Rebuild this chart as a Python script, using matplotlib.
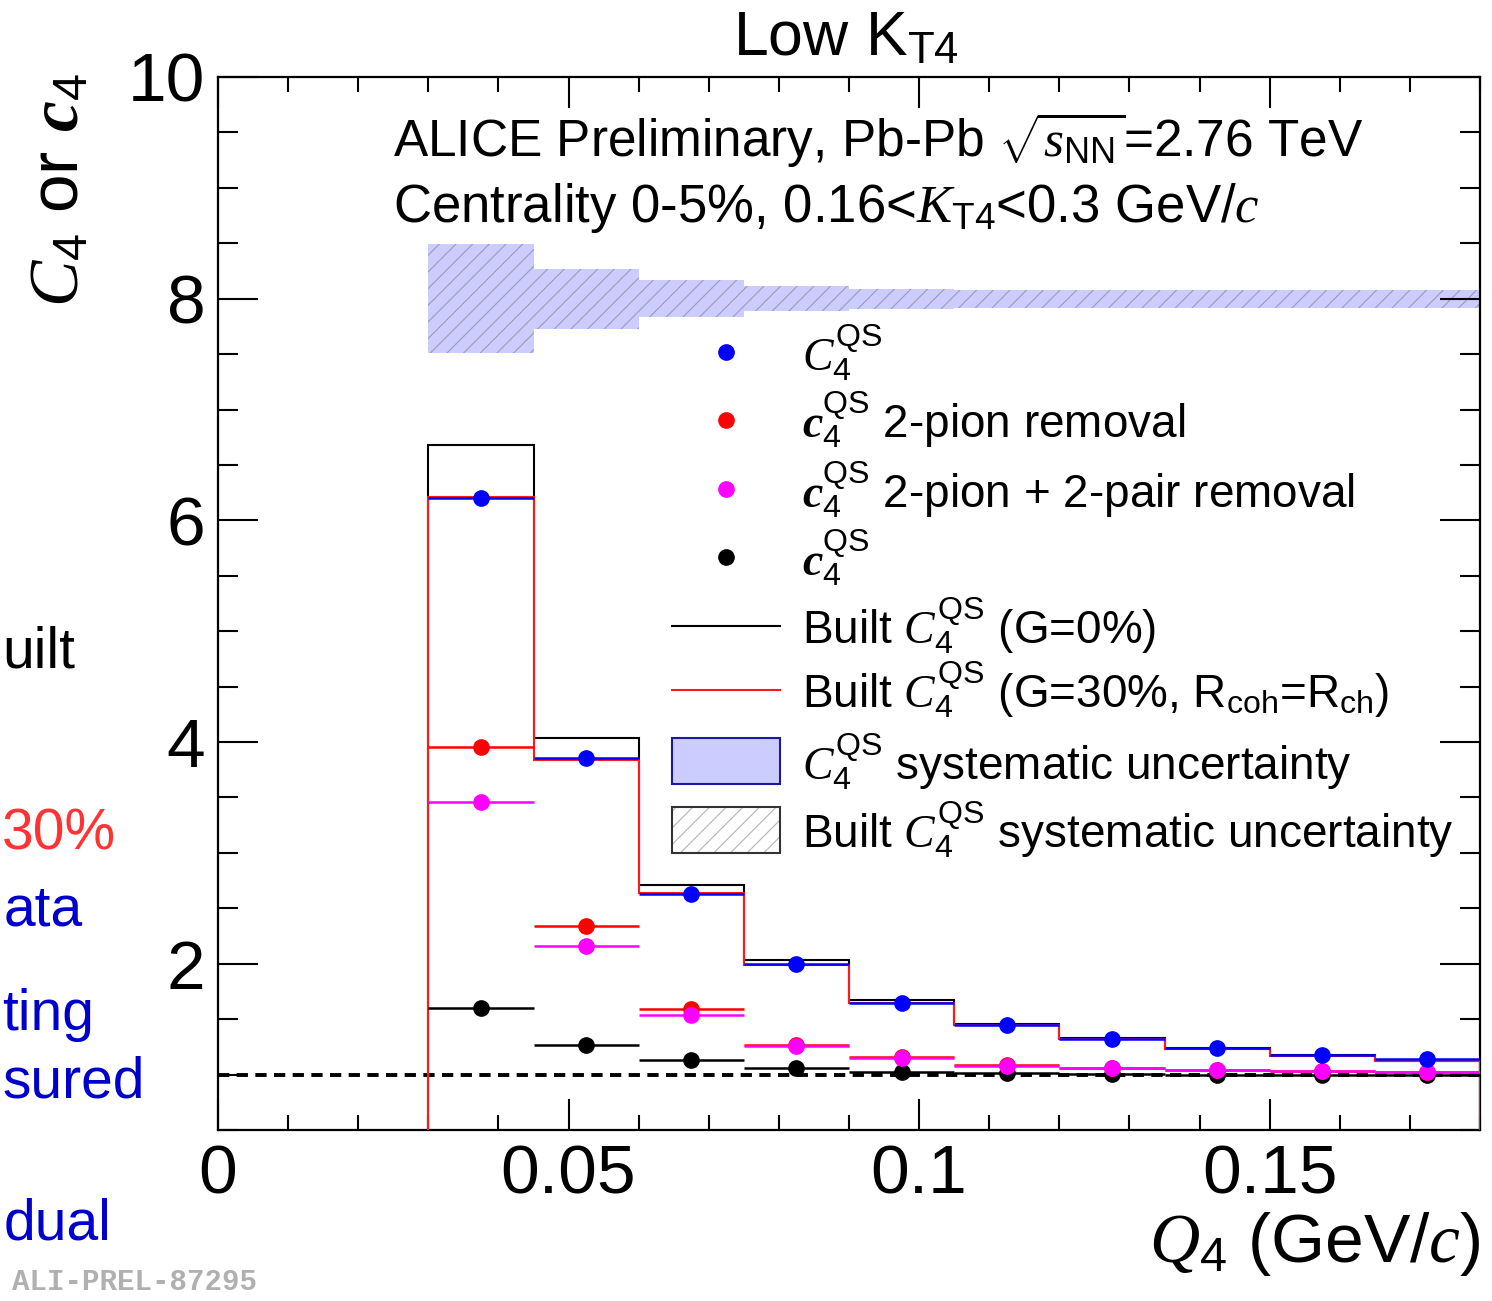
import numpy as np
import matplotlib
matplotlib.use("Agg")
import matplotlib.pyplot as plt
from matplotlib.lines import Line2D
from matplotlib.patches import Rectangle
from matplotlib.ticker import MultipleLocator, FixedLocator, FixedFormatter

plt.rcParams["font.family"] = ["Liberation Sans", "DejaVu Sans"]
plt.rcParams["mathtext.fontset"] = "custom"
plt.rcParams["mathtext.rm"] = "Liberation Sans"
plt.rcParams["mathtext.it"] = "Liberation Serif:italic"
plt.rcParams["mathtext.bf"] = "Liberation Serif:italic:bold"
plt.rcParams["hatch.linewidth"] = 0.8

# ---------------- data ----------------
q4_edges = [0.030, 0.045, 0.060, 0.075, 0.090, 0.105, 0.120, 0.135, 0.150, 0.165, 0.180]

C4_qs = [6.20, 3.86, 2.63, 2.00, 1.65, 1.445, 1.32, 1.24, 1.18, 1.14]
C4_qs_err = [0.02, 0.01, 0.01, 0.01, 0.01, 0.01, 0.01, 0.01, 0.01, 0.01]

c4_2pion = [3.955, 2.34, 1.59, 1.27, 1.16, 1.09, 1.06, 1.04, 1.03, 1.02]
c4_2pion_err = [0.03, 0.02, 0.02, 0.01, 0.01, 0.01, 0.01, 0.01, 0.01, 0.01]

c4_2pion_2pair = [3.46, 2.16, 1.54, 1.26, 1.15, 1.08, 1.06, 1.04, 1.03, 1.02]
c4_2pion_2pair_err = [0.06, 0.02, 0.02, 0.01, 0.01, 0.01, 0.01, 0.01, 0.01, 0.01]

c4_qs = [1.60, 1.265, 1.135, 1.06, 1.02, 1.01, 1.005, 1.0, 1.0, 1.0]
c4_qs_err = [0.06, 0.02, 0.02, 0.01, 0.01, 0.01, 0.01, 0.01, 0.01, 0.01]

built_G0 = [6.68, 4.04, 2.71, 2.03, 1.67, 1.455, 1.33, 1.24, 1.175, 1.125]
built_G30 = [6.21, 3.84, 2.64, 1.99, 1.65, 1.445, 1.32, 1.23, 1.17, 1.12]

syst_center = 8.0
syst_halfwidth = [0.49, 0.27, 0.165, 0.115, 0.09, 0.08, 0.08, 0.08, 0.08, 0.08]

x_ticks = [0.0, 0.05, 0.1, 0.15]
x_ticklabels = ["0", "0.05", "0.1", "0.15"]
y_ticks = [2, 4, 6, 8, 10]
y_ticklabels = ["2", "4", "6", "8", "10"]

# ---------------- figure ----------------
W, H = 1492, 1301
fig = plt.figure(figsize=(W / 100, H / 100), dpi=100)


def fx(px):
    return px / W


def fy(py):
    return 1 - py / H


ax = fig.add_axes([fx(218), fy(1130), fx(1480) - fx(218), fy(77) - fy(1130)])
ax.set_xlim(0, 0.18)
ax.set_ylim(0.5, 10)

edges = np.array(q4_edges)
centers = 0.5 * (edges[:-1] + edges[1:])
half_bin = 0.5 * (edges[1:] - edges[:-1])

# systematic uncertainty band (filled + hatched)
band_lo = syst_center - np.array(syst_halfwidth)
band_hi = syst_center + np.array(syst_halfwidth)
ax.stairs(band_hi, edges, baseline=band_lo, fill=True, color="#ccccff",
          linewidth=0, zorder=1)
ax.stairs(band_hi, edges, baseline=band_lo, fill=True, facecolor="none",
          edgecolor="#9a9ab8", hatch="//", linewidth=0, zorder=1.1)

# reference line at unity
ax.axhline(1.0, color="black", lw=2.8, linestyle=(0, (2.9, 1.9)), zorder=2)

# built correlation functions
ax.stairs(built_G0, edges, baseline=0, color="black", lw=1.5, zorder=3)
ax.stairs(built_G30, edges, baseline=0, color="#ff1a1a", lw=1.5, zorder=3.1)

# measured points
series = [
    (c4_qs, c4_qs_err, "black"),
    (c4_2pion, c4_2pion_err, "#ff0000"),
    (c4_2pion_2pair, c4_2pion_2pair_err, "#ff00ff"),
    (C4_qs, C4_qs_err, "#0000ff"),
]
for i, (vals, errs, col) in enumerate(series):
    ax.errorbar(centers, vals, xerr=half_bin, yerr=errs, fmt="o", ms=11,
                color=col, mec=col, ecolor=col, elinewidth=1.8, capsize=0,
                zorder=4 + i * 0.1)

# axes styling
for sp in ax.spines.values():
    sp.set_linewidth(1.6)
ax.xaxis.set_major_locator(FixedLocator(x_ticks))
ax.xaxis.set_major_formatter(FixedFormatter(x_ticklabels))
ax.xaxis.set_minor_locator(MultipleLocator(0.01))
ax.yaxis.set_major_locator(FixedLocator(y_ticks))
ax.yaxis.set_major_formatter(FixedFormatter(y_ticklabels))
ax.yaxis.set_minor_locator(MultipleLocator(0.5))
ax.tick_params(which="both", direction="in", top=True, right=True,
               width=1.5, labelsize=50)
ax.tick_params(axis="x", which="major", length=22, pad=10)
ax.tick_params(axis="x", which="minor", length=11)
ax.tick_params(axis="y", which="major", length=29, pad=9)
ax.tick_params(axis="y", which="minor", length=14.5)

# titles and labels
fig.text(fx(846), fy(55), r"Low K$_{\mathrm{T4}}$", fontsize=45,
         ha="center", va="baseline")
fig.text(fx(60), fy(190), r"$C_{4}$ or $\mathbf{c}_{4}$", fontsize=50,
         rotation=90, ha="center", va="center")
fig.text(fx(1480), fy(1262), r"$Q_{4}$ (GeV/$c$)", fontsize=50,
         ha="right", va="baseline")

fig.text(fx(393), fy(157),
         r"ALICE Preliminary, Pb-Pb $\sqrt{s_{\mathrm{NN}}}$=2.76 TeV",
         fontsize=37, ha="left", va="baseline")
fig.text(fx(393), fy(222),
         r"Centrality 0-5%, 0.16<$K_{\mathrm{T4}}$<0.3 GeV/$c$",
         fontsize=38, ha="left", va="baseline")

# legend drawn row by row
leg_rows = [352, 420, 489, 557, 626, 690, 761, 830]
leg_labels = [
    r"$C_{4}^{\mathrm{QS}}$",
    r"$\mathbf{c}_{4}^{\mathrm{QS}}$ 2-pion removal",
    r"$\mathbf{c}_{4}^{\mathrm{QS}}$ 2-pion + 2-pair removal",
    r"$\mathbf{c}_{4}^{\mathrm{QS}}$",
    r"Built $C_{4}^{\mathrm{QS}}$ (G=0%)",
    r"Built $C_{4}^{\mathrm{QS}}$ (G=30%, R$_{\mathrm{coh}}$=R$_{\mathrm{ch}}$)",
    r"$C_{4}^{\mathrm{QS}}$ systematic uncertainty",
    r"Built $C_{4}^{\mathrm{QS}}$ systematic uncertainty",
]
marker_cols = ["#0000ff", "#ff0000", "#ff00ff", "black"]
for row, col in zip(leg_rows[:4], marker_cols):
    fig.add_artist(Line2D([fx(726)], [fy(row)], marker="o", ms=11,
                          color=col, transform=fig.transFigure))
fig.add_artist(Line2D([fx(672), fx(780)], [fy(leg_rows[4])] * 2,
                      color="black", lw=1.5, transform=fig.transFigure))
fig.add_artist(Line2D([fx(672), fx(780)], [fy(leg_rows[5])] * 2,
                      color="#ff1a1a", lw=1.5, transform=fig.transFigure))
fig.add_artist(Rectangle((fx(672), fy(leg_rows[6] + 23)), fx(108), 46 / H,
                         facecolor="#ccccff", edgecolor="#1a1aa0", lw=1.5,
                         transform=fig.transFigure))
# hatched box: light hatch lines first, dark outline on top
fig.add_artist(Rectangle((fx(672), fy(leg_rows[7] + 23)), fx(108), 46 / H,
                         facecolor="white", edgecolor="#b4b4b4", lw=0,
                         hatch="//", transform=fig.transFigure))
fig.add_artist(Rectangle((fx(672), fy(leg_rows[7] + 23)), fx(108), 46 / H,
                         facecolor="none", edgecolor="#333333", lw=1.5,
                         transform=fig.transFigure))
for row, lab in zip(leg_rows, leg_labels):
    fig.text(fx(802), fy(row + 18), lab, fontsize=33, ha="left",
             va="baseline")

# slide text fragments along the left edge
side_text = [
    ("uilt", 2, 668, "black"),
    ("30%", 2, 850, "#ff3333"),
    ("ata", 4, 925, "#0000cc"),
    ("ting", 2, 1030, "#0000cc"),
    ("sured", 2, 1097, "#0000cc"),
    ("dual", 4, 1240, "#0000cc"),
]
for txt, xl, yb, col in side_text:
    fig.text(fx(xl), fy(yb), txt, fontsize=41, color=col, ha="left",
             va="baseline")

fig.text(fx(12), fy(1290), "ALI-PREL-87295", fontsize=21,
         family="Liberation Mono", weight="bold", color="#b0b0b0",
         ha="left", va="baseline")

fig.savefig("out.png", dpi=100)
